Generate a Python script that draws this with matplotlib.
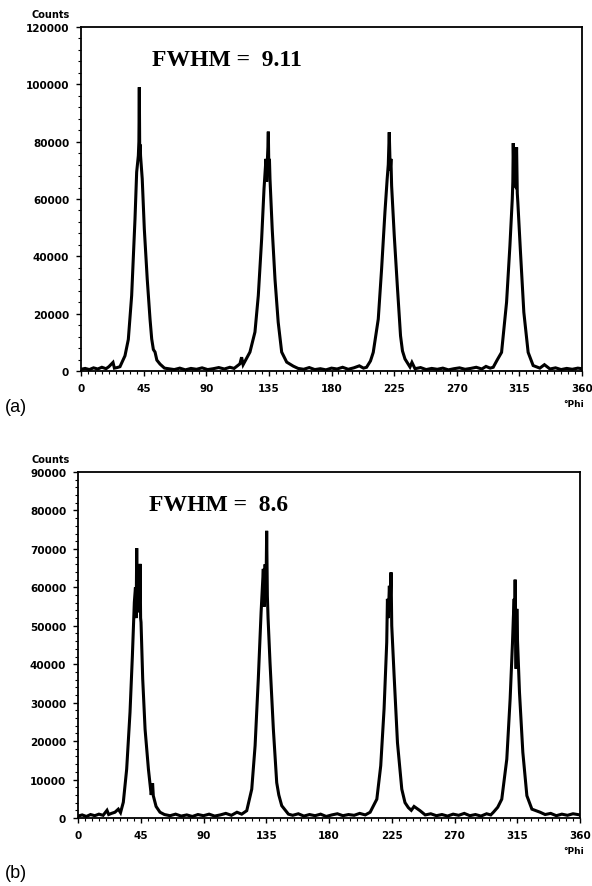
import numpy as np
import matplotlib
matplotlib.use('Agg')
from matplotlib import pyplot as plt

# panel (a) - phi scan, FWHM 9.11
phi_a = [0, 3, 6, 9, 12, 15, 18, 20, 23, 24, 26,
         28, 31.6, 34, 36.4, 38.8, 40, 41.2, 41.6, 41.9, 42.2, 42.5, 42.8, 44, 45.5, 47.6, 49.6, 50.8, 52, 53.2, 54.5, 56.8, 60,
         63, 67, 71, 75, 79, 83, 87, 91, 95, 99, 103, 107, 110,
         114.2, 115.4, 116.5, 121.4, 125, 127.4, 129.8, 131.5, 132.9, 133.4, 133.8, 134.3, 134.6, 135.0, 135.4, 135.8, 137.4, 139.4, 141.7, 144.2, 147.8, 152.5,
         156, 160, 164, 168, 172, 176, 180, 184, 188, 192, 196, 200, 203,
         205.2, 208, 210, 213.6, 216, 218.4, 220, 220.8, 221.5, 222.2, 222.7, 223.2, 225.1, 227.3, 229.6, 231, 232.8, 236.4,
         237.8, 240, 244, 248, 252, 256, 260, 264, 268, 272, 276, 280, 284, 288, 291, 294,
         296.2, 299, 302.2, 305.8, 308.2, 309.9, 310.3, 310.6, 311.2, 311.8, 312.4, 313.0, 313.5, 313.9, 315.8, 318.2, 321.3, 324.9, 329.7,
         333, 337, 341, 345, 349, 353, 357, 360]
counts_a = [600, 900, 500, 1100, 700, 1300, 800, 1500, 3000, 1000, 1200,
            1500, 5300, 11000, 26300, 53000, 69400, 75100, 80000, 99000, 76000, 79000, 75000, 67000, 49500, 32000, 18100, 11200, 7500, 6600, 3800, 2400, 1000,
            800, 500, 1000, 400, 900, 600, 1100, 500, 800, 1200, 700, 1300, 900,
            2500, 4800, 2200, 6600, 13600, 26300, 46000, 63500, 74000, 66000, 72000, 78000, 83500, 70000, 74000, 67000, 49500, 32000, 17000, 6600, 3100, 1700,
            900, 600, 1200, 500, 800, 400, 1000, 700, 1300, 600, 1100, 1800, 1000,
            1300, 3500, 6500, 18100, 35600, 55400, 67000, 72000, 83300, 70000, 74000, 64600, 47200, 29700, 12300, 7000, 4200, 1400,
            3000, 800, 1200, 500, 900, 600, 1000, 400, 800, 1100, 600, 900, 1300, 700, 1600, 1000,
            1300, 3800, 6500, 24000, 43700, 60000, 66000, 79500, 65000, 64600, 70000, 78000, 62000, 58800, 41400, 20500, 6500, 1900, 1000,
            2200, 700, 1100, 500, 900, 600, 1000, 800]

# panel (b) - phi scan, FWHM 8.6
phi_b = [0, 3, 6, 9, 12, 15, 18, 20.8, 22, 24,
         26.5, 28.9, 30.5, 32.5, 34.9, 37.3, 39, 40.4, 41.2, 41.7, 42.1, 42.5, 42.8, 43.4, 44.0, 44.5, 44.9, 45.2, 46.4, 48.1, 50.5, 52.5, 53.5, 54, 56, 58.8,
         62, 66, 70, 74, 78, 82, 86, 90, 94, 98, 102, 106, 110, 114,
         117.4, 121, 124.6, 127, 129.3, 131.3, 132.9, 133.6, 134.2, 134.8, 135.3, 135.8, 136.3, 137.7, 140.1, 142.5, 144, 146.1, 150.9,
         154, 158, 162, 166, 170, 174, 178, 182, 186, 190, 194, 198, 202, 206,
         209.5, 214.3, 217.1, 219.5, 221.4, 221.9, 222.5, 223.3, 223.8, 224.5, 225, 226.7, 229.1, 232.2, 234.5, 236.9, 239, 241, 245.3,
         249, 253, 257, 261, 265, 269, 273, 277, 281, 285, 289, 293, 296,
         297.9, 301, 303.9, 307.5, 309.9, 311.6, 312.2, 312.8, 313.2, 313.5, 313.9, 314.2, 314.7, 315.2, 316.6, 319, 321.9, 325.5, 331.4,
         335, 339, 343, 347, 351, 355, 360]
counts_b = [500, 800, 400, 900, 600, 1000, 700, 2000, 900, 1200,
            1500, 2300, 1400, 4100, 12700, 27500, 42200, 56100, 60000, 52000, 70200, 55000, 53500, 61000, 54000, 66100, 52000, 50900, 36200, 23100, 12700, 6000, 9000, 5800, 3000, 1500,
            900, 600, 1000, 500, 800, 400, 900, 600, 1000, 500, 800, 1200, 700, 1500,
            1000, 1900, 7500, 18800, 36200, 53500, 64800, 55000, 66000, 58000, 74700, 57800, 52000, 40400, 23100, 9200, 6000, 3200, 1000,
            700, 1100, 500, 900, 600, 1000, 400, 800, 1100, 600, 900, 700, 1200, 800,
            1500, 4900, 13600, 28400, 45700, 57000, 52000, 60400, 54000, 63900, 50000, 37000, 19600, 7500, 4000, 2700, 2000, 3000, 1900,
            800, 1100, 600, 900, 500, 1000, 700, 1200, 600, 900, 500, 1100, 800,
            1500, 2800, 4900, 15300, 31000, 45700, 52000, 57000, 50000, 62000, 45000, 38800, 54400, 46000, 32700, 17100, 5800, 2300, 1500,
            900, 1200, 600, 1000, 700, 1100, 800]

x_ticks = [0, 45, 90, 135, 180, 225, 270, 315, 360]
y_ticks_a = [0, 20000, 40000, 60000, 80000, 100000, 120000]
y_ticks_b = [0, 10000, 20000, 30000, 40000, 50000, 60000, 70000, 80000, 90000]

W, H = 592, 887
fig = plt.figure(figsize=(W / 100, H / 100), dpi=100)

tick_font = dict(family='DejaVu Sans', weight='bold', size=7.5)


def panel(rect, phi, counts, yticks, ymax, yminor, fwhm, letter, rect_px):
    ax = fig.add_axes(rect)
    ax.plot(phi, counts, color='black', lw=2.2, solid_joinstyle='miter')
    ax.set_xlim(0, 360)
    ax.set_ylim(0, ymax)
    ax.set_xticks(x_ticks)
    ax.set_xticklabels([str(t) for t in x_ticks], fontdict=tick_font)
    ax.set_yticks(yticks)
    ax.set_yticklabels([str(t) for t in yticks], fontdict=tick_font)
    ax.set_xticks(np.arange(0, 361, 5), minor=True)
    ax.set_yticks(np.arange(0, ymax + 1, yminor), minor=True)
    ax.tick_params(which='major', direction='out', length=3.5, width=1.0, pad=5)
    ax.tick_params(which='minor', direction='out', length=2, width=0.8)
    for s in ax.spines.values():
        s.set_linewidth(1.3)
    ax.text(0.142, 0.905, 'FWHM =  ' + fwhm, transform=ax.transAxes,
            family='Liberation Serif', weight='bold', size=17, va='center', ha='left')
    left, top, bottom = rect_px
    fig.text(32 / W, 1 - (top - 13) / H, 'Counts', family='DejaVu Sans', weight='bold', size=7,
             ha='left', va='center')
    fig.text(584 / W, 1 - (bottom + 33) / H, '\u00b0Phi', family='DejaVu Sans', weight='bold', size=6.5,
             ha='right', va='center')
    fig.text(5 / W, 1 - (bottom + 36 if letter == 'a' else bottom + 55) / H, '(' + letter + ')',
             family='Liberation Sans', size=13, ha='left', va='center')
    return ax


panel([81 / W, 1 - 372 / H, 501 / W, 344 / H], phi_a, counts_a, y_ticks_a, 120000, 4000,
      '9.11', 'a', (81, 28, 372))
panel([78 / W, 1 - 819 / H, 502 / W, 346 / H], phi_b, counts_b, y_ticks_b, 90000, 2000,
      '8.6', 'b', (78, 473, 819))

fig.savefig('out.png', dpi=100)
